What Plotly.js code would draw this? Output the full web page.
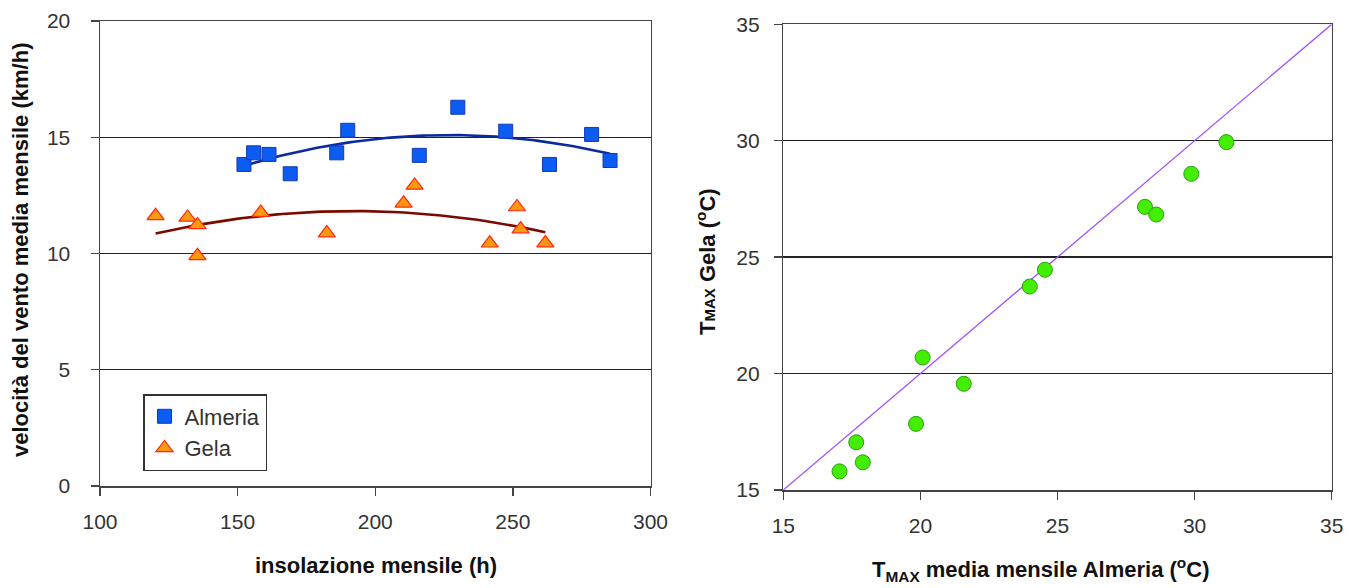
<!DOCTYPE html>
<html>
<head>
<meta charset="utf-8">
<script src="https://cdn.plot.ly/plotly-3.0.1.min.js"></script>
<style>html,body{margin:0;padding:0;background:#fff;}#chart{width:1356px;height:588px;}</style>
</head>
<body>
<div id="chart"></div>
<script>
// Left chart: monthly insolation (h) vs monthly mean wind speed (km/h)
const almeriaInsolation = [152.3, 155.8, 161.4, 169.1, 186.0, 190.0, 216.0, 230.0, 247.4, 263.3, 278.6, 285.3];
const almeriaWind       = [13.83, 14.33, 14.26, 13.43, 14.33, 15.30, 14.22, 16.29, 15.26, 13.83, 15.12, 14.00];
const gelaInsolation    = [120.2, 131.8, 135.4, 135.4, 158.4, 182.4, 210.3, 214.3, 241.6, 251.5, 252.8, 261.8];
const gelaWind          = [11.62, 11.55, 11.23, 9.90, 11.76, 10.88, 12.16, 12.93, 10.44, 12.00, 11.05, 10.45];

// Right chart: monthly mean Tmax Almeria vs Tmax Gela (°C)
const tmaxAlmeria = [31.16, 29.88, 28.19, 28.60, 24.54, 23.99, 20.08, 21.58, 19.84, 17.66, 17.90, 17.05];
const tmaxGela    = [29.94, 28.58, 27.16, 26.83, 24.46, 23.74, 20.69, 19.56, 17.84, 17.05, 16.19, 15.80];
const bisector    = [15, 35];

const leftXTicks  = [100, 150, 200, 250, 300];
const leftYTicks  = [0, 5, 10, 15, 20];
const rightTicks  = [15, 20, 25, 30, 35];

// quadratic least-squares trendline (like a spreadsheet polynomial trendline)
function polyFit2(xs, ys) {
  let S = [0,0,0,0,0], T = [0,0,0];
  for (let i = 0; i < xs.length; i++) {
    let p = 1;
    for (let k = 0; k < 5; k++) { S[k] += p; if (k < 3) T[k] += p * ys[i]; p *= xs[i]; }
  }
  const A = [[S[0],S[1],S[2],T[0]],[S[1],S[2],S[3],T[1]],[S[2],S[3],S[4],T[2]]];
  for (let c = 0; c < 3; c++) {
    for (let r = c + 1; r < 3; r++) {
      const f = A[r][c] / A[c][c];
      for (let k = c; k < 4; k++) A[r][k] -= f * A[c][k];
    }
  }
  const b = [0,0,0];
  for (let r = 2; r >= 0; r--) {
    let s = A[r][3];
    for (let k = r + 1; k < 3; k++) s -= A[r][k] * b[k];
    b[r] = s / A[r][r];
  }
  return b;
}
function trend(xs, ys) {
  const b = polyFit2(xs, ys);
  const lo = Math.min(...xs), hi = Math.max(...xs);
  const tx = [], ty = [];
  for (let i = 0; i <= 80; i++) {
    const x = lo + (hi - lo) * i / 80;
    tx.push(x); ty.push(b[0] + b[1] * x + b[2] * x * x);
  }
  return {x: tx, y: ty};
}
const tA = trend(almeriaInsolation, almeriaWind);
const tG = trend(gelaInsolation, gelaWind);

const traces = [
  {x: tA.x, y: tA.y, mode: 'lines', line: {color: '#0a2a9e', width: 2.6}, showlegend: false, hoverinfo: 'skip', xaxis: 'x', yaxis: 'y'},
  {x: tG.x, y: tG.y, mode: 'lines', line: {color: '#7a0a00', width: 2.6}, showlegend: false, hoverinfo: 'skip', xaxis: 'x', yaxis: 'y'},
  {x: almeriaInsolation, y: almeriaWind, name: 'Almeria', mode: 'markers', xaxis: 'x', yaxis: 'y',
   marker: {symbol: 'square', size: 14, color: '#0b5cf0', line: {color: '#1638b8', width: 1}}},
  {x: gelaInsolation, y: gelaWind, name: 'Gela', mode: 'markers', xaxis: 'x', yaxis: 'y',
   marker: {symbol: 'triangle-up', size: 15, color: '#ff9a10', line: {color: '#ff2a10', width: 1.2}}},
  {x: bisector, y: bisector, mode: 'lines', line: {color: '#a050ff', width: 1.3}, showlegend: false, xaxis: 'x2', yaxis: 'y2'},
  {x: tmaxAlmeria, y: tmaxGela, mode: 'markers', showlegend: false, xaxis: 'x2', yaxis: 'y2',
   marker: {symbol: 'circle', size: 15, color: '#44ee00', line: {color: '#2aa010', width: 1}}}
];

const tickFont = {family: 'Liberation Sans, Arial, sans-serif', size: 21, color: '#333'};
const titleFont = {family: 'Liberation Sans, Arial, sans-serif', size: 22, color: '#111'};
const axisCommon = {
  showline: true, linecolor: '#444', linewidth: 1.5, mirror: true,
  ticks: 'outside', ticklen: 8, tickcolor: '#444', tickwidth: 1.3,
  tickfont: tickFont, zeroline: false, fixedrange: true
};

const layout = {
  width: 1356, height: 588,
  margin: {l: 0, r: 0, t: 0, b: 0},
  paper_bgcolor: '#fff', plot_bgcolor: '#fff',
  font: {family: 'Liberation Sans, Arial, sans-serif'},
  showlegend: true,
  legend: {x: 143/1356, y: 1 - 394/588, xanchor: 'left', yanchor: 'top',
           bgcolor: '#fff', bordercolor: '#333', borderwidth: 1.5,
           font: {family: 'Liberation Sans, Arial, sans-serif', size: 22, color: '#333'}},
  xaxis: Object.assign({}, axisCommon, {domain: [100/1356, 650.5/1356], range: [100, 300], tickvals: leftXTicks, showgrid: false, anchor: 'y', ticklabelstandoff: 8}),
  yaxis: Object.assign({}, axisCommon, {domain: [1 - 486/588, 1 - 21/588], range: [0, 20], tickvals: leftYTicks, showgrid: true, gridcolor: '#222', gridwidth: 1.3, anchor: 'x', ticklabelstandoff: 16}),
  xaxis2: Object.assign({}, axisCommon, {domain: [783.3/1356, 1331.7/1356], range: [15, 35], tickvals: rightTicks, showgrid: false, anchor: 'y2', ticklabelstandoff: 8}),
  yaxis2: Object.assign({}, axisCommon, {domain: [1 - 490/588, 1 - 24.3/588], range: [15, 35], tickvals: rightTicks, showgrid: true, gridcolor: '#222', gridwidth: 1.3, anchor: 'x2', ticklabelstandoff: 10}),
  annotations: [
    {text: '<b>insolazione mensile (h)</b>', xref: 'paper', yref: 'paper', x: 376/1356, y: 1 - 565/588, xanchor: 'center', yanchor: 'middle', showarrow: false, font: titleFont},
    {text: '<b>velocità del vento media mensile (km/h)</b>', xref: 'paper', yref: 'paper', x: 21/1356, y: 1 - 250/588, xanchor: 'center', yanchor: 'middle', textangle: -90, showarrow: false, font: titleFont},
    {text: '<b>T<sub>MAX</sub> media mensile Almeria (<sup>o</sup>C)</b>', xref: 'paper', yref: 'paper', x: 1040/1356, y: 1 - 569/588, xanchor: 'center', yanchor: 'middle', showarrow: false, font: titleFont},
    {text: '<b>T<span style="font-size:15px">MAX</span> Gela (<sup>o</sup>C)</b>', xref: 'paper', yref: 'paper', x: 706/1356, y: 1 - 262/588, xanchor: 'center', yanchor: 'middle', textangle: -90, showarrow: false, font: titleFont}
  ]
};

Plotly.newPlot('chart', traces, layout, {displayModeBar: false, staticPlot: true});
</script>
</body>
</html>
